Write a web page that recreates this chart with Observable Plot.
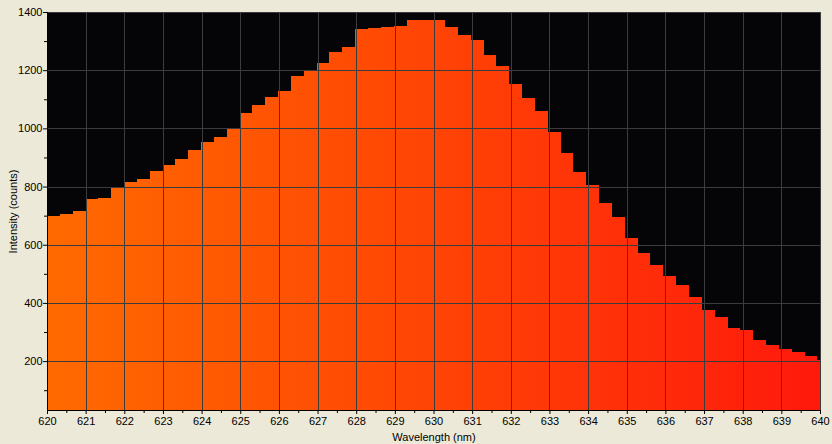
<!DOCTYPE html>
<html>
<head>
<meta charset="utf-8">
<script src="https://cdn.jsdelivr.net/npm/d3@7"></script>
<script src="https://cdn.jsdelivr.net/npm/@observablehq/plot@0.6"></script>
<style>
  html, body { margin: 0; padding: 0; background: #ECE9D8; }
  #chart svg { display: block; }
</style>
</head>
<body>
<div id="chart"></div>
<script>
// Left edge of each spectrometer bin (nm)
const wavelengths = [
  620.000, 620.332, 620.664, 620.997, 621.329, 621.661, 621.993, 622.325, 622.658, 622.990,
  623.322, 623.654, 623.986, 624.319, 624.651, 624.983, 625.315, 625.647, 625.980, 626.312,
  626.644, 626.976, 627.308, 627.641, 627.973, 628.305, 628.637, 628.969, 629.302, 629.634,
  629.966, 630.298, 630.630, 630.963, 631.295, 631.627, 631.959, 632.291, 632.624, 632.956,
  633.288, 633.620, 633.952, 634.285, 634.617, 634.949, 635.281, 635.613, 635.946, 636.278,
  636.610, 636.942, 637.274, 637.607, 637.939, 638.271, 638.603, 638.935, 639.268, 639.600,
  639.932
];
// Intensity (counts)
const intensity = [
  699, 706, 716, 758, 761, 799, 816, 826, 854, 874,
  895, 926, 953, 971, 998, 1053, 1080, 1108, 1129, 1180,
  1197, 1225, 1263, 1280, 1342, 1345, 1348, 1352, 1372, 1372,
  1372, 1348, 1321, 1304, 1252, 1214, 1153, 1105, 1060, 988,
  916, 850, 806, 744, 696, 624, 572, 531, 493, 462,
  421, 376, 352, 314, 307, 273, 256, 242, 232, 218,
  204
];
const xTicks = [620,621,622,623,624,625,626,627,628,629,630,631,632,633,634,635,636,637,638,639,640];
const xMinorTicks = [620.5,621.5,622.5,623.5,624.5,625.5,626.5,627.5,628.5,629.5,630.5,631.5,632.5,633.5,634.5,635.5,636.5,637.5,638.5,639.5];
const yTicks = [200,400,600,800,1000,1200,1400];
const yMinorTicks = [100,300,500,700,900,1100,1300];
const xDomain = [620, 640];
const yDomain = [32, 1400];
const xLabel = "Wavelength (nm)";
const yLabel = "Intensity (counts)";

const bins = wavelengths.map((w, i) => ({
  x1: w,
  x2: i + 1 < wavelengths.length ? wavelengths[i + 1] : xDomain[1],
  y: intensity[i]
}));

const gridColor = "#3c3c3c";
const fontFamily = "'Liberation Sans', Arial, sans-serif";

const gradient = (index, scales) => {
  const ns = "http://www.w3.org/2000/svg";
  const defs = document.createElementNS(ns, "defs");
  const lg = document.createElementNS(ns, "linearGradient");
  lg.setAttribute("id", "specGrad");
  lg.setAttribute("gradientUnits", "userSpaceOnUse");
  lg.setAttribute("x1", scales.x(xDomain[0]));
  lg.setAttribute("x2", scales.x(xDomain[1]));
  lg.setAttribute("y1", 0);
  lg.setAttribute("y2", 0);
  [["0", "#ff6a00"], ["0.5", "#ff4405"], ["1", "#ff190c"]].forEach(([o, c]) => {
    const s = document.createElementNS(ns, "stop");
    s.setAttribute("offset", o);
    s.setAttribute("stop-color", c);
    lg.appendChild(s);
  });
  defs.appendChild(lg);
  return defs;
};

const chart = Plot.plot({
  width: 832,
  height: 444,
  marginLeft: 47,
  marginRight: 12,
  marginTop: 12,
  marginBottom: 34,
  style: {background: "#ECE9D8", fontFamily, fontSize: "11px", color: "#000"},
  x: {domain: xDomain},
  y: {domain: yDomain},
  marks: [
    Plot.frame({fill: "#050508", stroke: null}),
    gradient,
    Plot.rectY(bins, {x1: "x1", x2: "x2", y1: yDomain[0], y2: "y", fill: "url(#specGrad)", clip: true, shapeRendering: "crispEdges"}),
    Plot.gridX(xTicks, {stroke: gridColor, strokeOpacity: 1, shapeRendering: "crispEdges"}),
    Plot.gridY(yTicks, {stroke: gridColor, strokeOpacity: 1, shapeRendering: "crispEdges"}),
    Plot.ruleX([xDomain[0]], {stroke: "#000", shapeRendering: "crispEdges"}),
    Plot.ruleY([yDomain[0]], {stroke: "#000", shapeRendering: "crispEdges"}),
    Plot.axisY(yTicks, {tickSize: 4, tickPadding: 1, tickFormat: d3.format("d"), label: null, stroke: "#000", fill: "#000", fontSize: 11, fontFamily}),
    Plot.axisY(yMinorTicks, {tickSize: 3, tickFormat: () => "", label: null, stroke: "#000"}),
    Plot.axisX(xTicks, {tickSize: 4, tickPadding: 3, tickFormat: d3.format("d"), label: null, stroke: "#000", fill: "#000", fontSize: 11, fontFamily}),
    Plot.axisX(xMinorTicks, {tickSize: 3, tickFormat: () => "", label: null, stroke: "#000"}),
    Plot.text([xLabel], {frameAnchor: "bottom", dy: 27, text: d => d, fill: "#000", textAnchor: "middle", lineAnchor: "middle", fontSize: 11, fontFamily}),
    Plot.text([yLabel], {frameAnchor: "left", dx: -34, rotate: -90, text: d => d, fill: "#000", textAnchor: "middle", lineAnchor: "middle", fontSize: 11, fontFamily})
  ]
});
document.getElementById("chart").appendChild(chart);
</script>
</body>
</html>
